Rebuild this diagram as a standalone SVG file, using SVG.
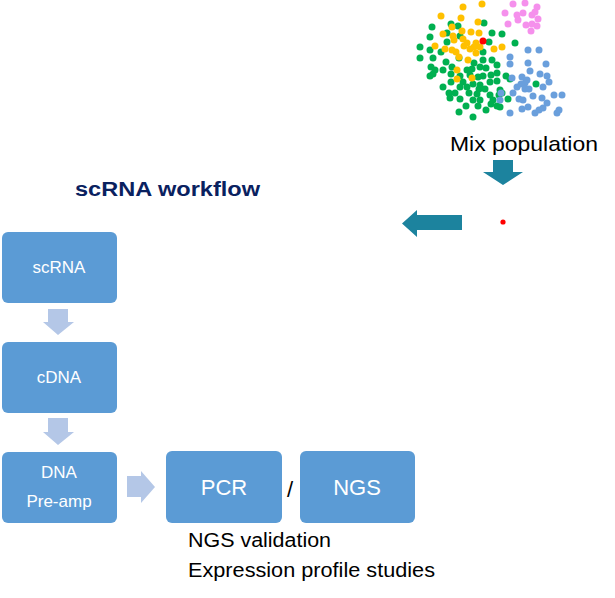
<svg xmlns="http://www.w3.org/2000/svg" width="615" height="598" viewBox="0 0 615 598">
<style>
.box{fill:#5B9BD5}
.bt{font-family:"Liberation Sans",Arial,sans-serif;fill:#ffffff;text-anchor:middle}
.lt{font-family:"Liberation Sans",Arial,sans-serif;fill:#000000}
#scatter circle{r:3.5px}
.g circle{fill:#00B050}
.y circle{fill:#FFC000}
.p circle{fill:#F590EC}
.b circle{fill:#6A9FDC}
.la{fill:#B4C7E7}
.ta{fill:#1C839E}
</style>
<rect width="615" height="598" fill="#ffffff"/>
<g id="scatter">
<g class="g">
<circle cx="432" cy="27" r="3.5"/><circle cx="451" cy="24" r="3.5"/><circle cx="458" cy="26" r="3.5"/><circle cx="484" cy="23" r="3.5"/>
<circle cx="430" cy="37" r="3.5"/><circle cx="447" cy="33" r="3.5"/><circle cx="460" cy="36" r="3.5"/><circle cx="492" cy="33" r="3.5"/><circle cx="502" cy="34" r="3.5"/>
<circle cx="420" cy="47" r="3.5"/><circle cx="430" cy="50" r="3.5"/><circle cx="441" cy="52" r="3.5"/><circle cx="447" cy="42" r="3.5"/><circle cx="483" cy="52" r="3.5"/><circle cx="489" cy="42" r="3.5"/><circle cx="515" cy="43" r="3.5"/>
<circle cx="420" cy="58" r="3.5"/><circle cx="433" cy="58" r="3.5"/><circle cx="446" cy="62" r="3.5"/><circle cx="459" cy="58" r="3.5"/><circle cx="474" cy="63" r="3.5"/><circle cx="483" cy="60" r="3.5"/><circle cx="492" cy="60" r="3.5"/><circle cx="497" cy="65" r="3.5"/>
<circle cx="431" cy="67" r="3.5"/><circle cx="435" cy="70" r="3.5"/><circle cx="443" cy="70" r="3.5"/><circle cx="452" cy="67" r="3.5"/><circle cx="467" cy="70" r="3.5"/><circle cx="472" cy="69" r="3.5"/><circle cx="480" cy="67" r="3.5"/><circle cx="486" cy="68" r="3.5"/>
<circle cx="430" cy="76" r="3.5"/><circle cx="433" cy="74" r="3.5"/><circle cx="451" cy="74" r="3.5"/><circle cx="460" cy="76" r="3.5"/><circle cx="470" cy="75" r="3.5"/><circle cx="478" cy="77" r="3.5"/><circle cx="483" cy="76" r="3.5"/><circle cx="491" cy="75" r="3.5"/><circle cx="497" cy="73" r="3.5"/><circle cx="506" cy="76" r="3.5"/>
<circle cx="451" cy="82" r="3.5"/><circle cx="463" cy="82" r="3.5"/><circle cx="473" cy="84" r="3.5"/><circle cx="480" cy="85" r="3.5"/><circle cx="490" cy="82" r="3.5"/><circle cx="497" cy="81" r="3.5"/><circle cx="510" cy="79" r="3.5"/>
<circle cx="443" cy="87" r="3.5"/><circle cx="460" cy="87" r="3.5"/><circle cx="467" cy="87" r="3.5"/><circle cx="479" cy="89" r="3.5"/><circle cx="485" cy="89" r="3.5"/><circle cx="500" cy="90" r="3.5"/><circle cx="536" cy="84" r="3.5"/>
<circle cx="449" cy="93" r="3.5"/><circle cx="455" cy="93" r="3.5"/><circle cx="469" cy="93" r="3.5"/><circle cx="477" cy="94" r="3.5"/><circle cx="490" cy="95" r="3.5"/><circle cx="499" cy="95" r="3.5"/><circle cx="502" cy="93" r="3.5"/>
<circle cx="450" cy="98" r="3.5"/><circle cx="460" cy="99" r="3.5"/><circle cx="473" cy="100" r="3.5"/><circle cx="480" cy="100" r="3.5"/><circle cx="493" cy="100" r="3.5"/><circle cx="508" cy="99" r="3.5"/>
<circle cx="466" cy="106" r="3.5"/><circle cx="478" cy="106" r="3.5"/><circle cx="491" cy="104" r="3.5"/><circle cx="497" cy="106" r="3.5"/>
<circle cx="459" cy="112" r="3.5"/><circle cx="486" cy="110" r="3.5"/><circle cx="500" cy="107" r="3.5"/><circle cx="473" cy="117" r="3.5"/>
</g>
<g class="y">
<circle cx="463" cy="7" r="3.5"/><circle cx="482" cy="4" r="3.5"/><circle cx="441" cy="16" r="3.5"/><circle cx="461" cy="18" r="3.5"/><circle cx="478" cy="22" r="3.5"/>
<circle cx="452" cy="27" r="3.5"/><circle cx="462" cy="31" r="3.5"/><circle cx="443" cy="34" r="3.5"/><circle cx="471" cy="32" r="3.5"/><circle cx="479" cy="33" r="3.5"/>
<circle cx="453" cy="36" r="3.5"/><circle cx="454" cy="40" r="3.5"/><circle cx="463" cy="39" r="3.5"/><circle cx="435" cy="46" r="3.5"/><circle cx="467" cy="43" r="3.5"/><circle cx="476" cy="43" r="3.5"/><circle cx="464" cy="46" r="3.5"/>
<circle cx="445" cy="49" r="3.5"/><circle cx="452" cy="50" r="3.5"/><circle cx="456" cy="52" r="3.5"/><circle cx="470" cy="49" r="3.5"/><circle cx="474" cy="47" r="3.5"/><circle cx="480" cy="47" r="3.5"/>
<circle cx="502" cy="47" r="3.5"/><circle cx="494" cy="49" r="3.5"/><circle cx="459" cy="57" r="3.5"/><circle cx="468" cy="60" r="3.5"/><circle cx="476" cy="53" r="3.5"/>
<circle cx="457" cy="70" r="3.5"/><circle cx="472" cy="78" r="3.5"/><circle cx="457" cy="79" r="3.5"/>
</g>
<g class="p">
<circle cx="513" cy="4" r="3.5"/><circle cx="525" cy="3" r="3.5"/><circle cx="537" cy="7" r="3.5"/>
<circle cx="505" cy="13" r="3.5"/><circle cx="517" cy="15" r="3.5"/><circle cx="523" cy="13" r="3.5"/><circle cx="532" cy="15" r="3.5"/><circle cx="535" cy="12" r="3.5"/>
<circle cx="518" cy="20" r="3.5"/><circle cx="538" cy="19" r="3.5"/><circle cx="508" cy="24" r="3.5"/><circle cx="526" cy="25" r="3.5"/><circle cx="532" cy="24" r="3.5"/><circle cx="537" cy="26" r="3.5"/>
<circle cx="531" cy="31" r="3.5"/>
</g>
<g class="b">
<circle cx="528" cy="50" r="3.5"/><circle cx="539" cy="50" r="3.5"/>
<circle cx="510" cy="57" r="3.5"/><circle cx="510" cy="64" r="3.5"/><circle cx="528" cy="63" r="3.5"/><circle cx="546" cy="64" r="3.5"/>
<circle cx="530" cy="71" r="3.5"/><circle cx="540" cy="74" r="3.5"/><circle cx="547" cy="76" r="3.5"/>
<circle cx="512" cy="78" r="3.5"/><circle cx="522" cy="77" r="3.5"/><circle cx="527" cy="80" r="3.5"/><circle cx="525" cy="83" r="3.5"/><circle cx="549" cy="82" r="3.5"/><circle cx="517" cy="87" r="3.5"/><circle cx="521" cy="84" r="3.5"/>
<circle cx="525" cy="89" r="3.5"/><circle cx="529" cy="89" r="3.5"/><circle cx="543" cy="87" r="3.5"/>
<circle cx="501" cy="93" r="3.5"/><circle cx="513" cy="93" r="3.5"/><circle cx="533" cy="96" r="3.5"/><circle cx="542" cy="98" r="3.5"/><circle cx="554" cy="95" r="3.5"/><circle cx="562" cy="95" r="3.5"/>
<circle cx="500" cy="100" r="3.5"/><circle cx="519" cy="99" r="3.5"/><circle cx="523" cy="100" r="3.5"/><circle cx="528" cy="107" r="3.5"/><circle cx="547" cy="103" r="3.5"/>
<circle cx="510" cy="113" r="3.5"/><circle cx="522" cy="109" r="3.5"/><circle cx="535" cy="113" r="3.5"/><circle cx="539" cy="110" r="3.5"/><circle cx="543" cy="108" r="3.5"/><circle cx="557" cy="113" r="3.5"/><circle cx="559" cy="110" r="3.5"/>
</g>
<circle cx="483" cy="41" r="3.5" fill="#FF0000"/>
</g>
<text id="mix" class="lt" x="450" y="151" font-size="21" textLength="148" lengthAdjust="spacingAndGlyphs">Mix population</text>
<circle id="single-cell" cx="503" cy="222" r="2.6" fill="#FF0000"/>
<text id="title" x="75" y="196" font-family="'Liberation Sans',Arial,sans-serif" font-weight="bold" font-size="20" fill="#0A215F" textLength="185" lengthAdjust="spacingAndGlyphs">scRNA workflow</text>
<g id="connectors">
<polygon class="ta" points="493,160 513,160 513,172 523,172 503,185 483,172 493,172"/>
<polygon class="ta" points="462,215 462,230 417,230 417,237 402,223.5 417,210 417,215"/>
<polygon class="la" points="48,309 68,309 68,322 74,322 58,335 43,322 48,322"/>
<polygon class="la" points="48,418 68,418 68,432 74,432 58,445 43,432 48,432"/>
<polygon class="la" points="127,476 141,476 141,471 155,487 141,503 141,497 127,497"/>
</g>
<g id="scrna">
<rect class="box" x="2" y="232" width="115" height="71" rx="6"/>
<text class="bt" x="59" y="273" font-size="17">scRNA</text>
</g>
<g id="cdna">
<rect class="box" x="2" y="342" width="115" height="71" rx="6"/>
<text class="bt" x="59" y="383" font-size="17">cDNA</text>
</g>
<g id="dna-preamp">
<rect class="box" x="2" y="452" width="115" height="71" rx="6"/>
<text class="bt" x="59" y="478" font-size="17">DNA</text>
<text class="bt" x="59" y="507" font-size="17">Pre-amp</text>
</g>
<g id="pcr">
<rect class="box" x="166" y="451" width="116" height="72" rx="6"/>
<text class="bt" x="224" y="495" font-size="22">PCR</text>
</g>
<text id="slash" class="lt" x="290" y="497" font-size="22" text-anchor="middle">/</text>
<g id="ngs">
<rect class="box" x="300" y="451" width="115" height="72" rx="6"/>
<text class="bt" x="357" y="495" font-size="22">NGS</text>
</g>
<text id="note1" class="lt" x="188" y="547" font-size="20" textLength="143" lengthAdjust="spacingAndGlyphs">NGS validation</text>
<text id="note2" class="lt" x="188" y="577" font-size="20" textLength="247" lengthAdjust="spacingAndGlyphs">Expression profile studies</text>
</svg>
